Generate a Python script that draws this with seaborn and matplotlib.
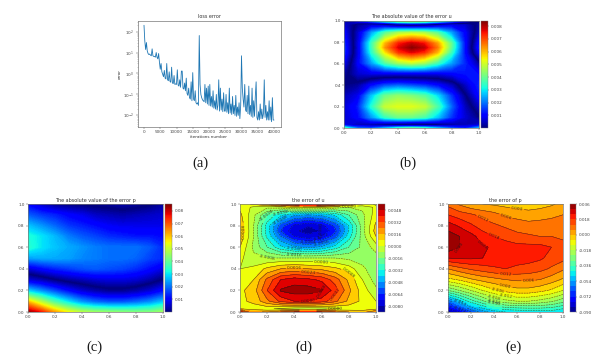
import numpy as np
import pandas as pd
import matplotlib
matplotlib.use('Agg')
import matplotlib.pyplot as plt
from matplotlib.cm import ScalarMappable
from matplotlib.colors import ListedColormap, Normalize
import seaborn as sns

# loss curve, one value every 250 iterations
loss_values = [
    200, 35, 14, 30, 12, 9, 8, 8.5, 7.5, 7, 15, 7, 6.5, 6.5, 6, 10, 6, 5, 9, 3.5,
    1.6, 3, 1.2, 0.9, 0.7, 1.4, 0.6, 0.55, 3, 0.5, 0.45, 1.2, 0.42, 0.38, 2, 0.35, 0.33, 0.8, 0.3, 0.32,
    0.3, 1.5, 0.28, 0.25, 0.5, 0.22, 1.3, 1.3, 0.2, 0.18, 0.35, 0.15, 0.6, 0.11, 0.09, 0.2, 0.07, 0.06, 0.4, 0.05,
    1.1, 0.06, 0.05, 0.15, 0.04, 0.035, 0.04, 0.03, 65, 0.3, 0.1, 0.07, 0.055, 0.05, 0.045, 0.3, 0.04, 0.2, 0.035, 0.25,
    0.03, 0.3, 0.028, 0.08, 0.025, 0.15, 0.022, 0.05, 0.02, 0.1, 0.018, 0.03, 0.5, 0.016, 0.2, 0.018, 0.06, 0.015, 0.12, 0.016,
    0.016, 0.1, 0.014, 0.04, 0.012, 0.2, 0.013, 0.035, 0.011, 0.08, 0.012, 0.03, 0.01, 0.09, 0.009, 0.025, 0.01, 0.04, 0.007, 0.03,
    7, 0.2, 0.06, 0.025, 0.3, 0.018, 0.015, 0.09, 0.012, 0.25, 0.011, 0.03, 0.009, 0.2, 0.008, 0.05, 0.009, 0.08, 0.4, 0.008,
    0.006, 0.015, 0.006, 0.035, 0.007, 0.02, 0.007, 0.012, 0.5, 0.008, 0.03, 0.006, 0.015, 0.006, 0.05, 0.006, 0.025, 0.005, 0.07, 0.006,
    0.006,
]
iterations = [i * 250 for i in range(len(loss_values))]

grid_x = [0.0, 0.1, 0.2, 0.3, 0.4, 0.5, 0.6, 0.7, 0.8, 0.9, 1.0]

# error of u, rows from the top of the plot to the bottom
u_y = [1.0, 0.97, 0.9, 0.8, 0.75, 0.7, 0.6, 0.5, 0.4, 0.3, 0.2, 0.1, 0.03, 0.0]
u_err = [
    [0.0002, 0.0010, 0.0022, 0.0036, 0.0045, 0.0049, 0.0045, 0.0036, 0.0022, 0.0008, -0.0002],
    [0.0006, -0.0002, -0.0006, -0.0004, 0.0002, 0.0004, 0.0002, -0.0004, -0.0008, -0.0006, 0.0002],
    [0.0010, -0.0006, -0.0024, -0.0038, -0.0046, -0.0048, -0.0046, -0.0038, -0.0024, -0.0010, 0.0004],
    [0.0014, -0.0008, -0.0036, -0.0060, -0.0074, -0.0079, -0.0075, -0.0062, -0.0040, -0.0012, 0.0010],
    [0.0015, -0.0008, -0.0036, -0.0064, -0.0078, -0.0084, -0.0080, -0.0066, -0.0040, -0.0012, 0.0012],
    [0.0014, -0.0008, -0.0034, -0.0056, -0.0072, -0.0077, -0.0073, -0.0060, -0.0036, -0.0012, 0.0008],
    [0.0008, -0.0010, -0.0024, -0.0038, -0.0046, -0.0050, -0.0046, -0.0036, -0.0024, -0.0014, -0.0004],
    [0.0002, -0.0006, -0.0008, -0.0008, -0.0008, -0.0008, -0.0008, -0.0008, -0.0010, -0.0012, -0.0012],
    [0.0000, 0.0002, 0.0010, 0.0016, 0.0018, 0.0016, 0.0014, 0.0010, 0.0004, -0.0006, -0.0014],
    [0.0004, 0.0008, 0.0026, 0.0040, 0.0044, 0.0042, 0.0038, 0.0028, 0.0014, 0.0000, -0.0012],
    [0.0006, 0.0012, 0.0032, 0.0049, 0.0052, 0.0052, 0.0049, 0.0036, 0.0018, 0.0004, -0.0006],
    [0.0006, 0.0010, 0.0022, 0.0034, 0.0040, 0.0040, 0.0036, 0.0026, 0.0014, 0.0006, 0.0000],
    [0.0008, 0.0004, 0.0002, -0.0002, -0.0005, -0.0006, -0.0005, -0.0002, 0.0002, 0.0004, 0.0006],
    [0.0035, 0.0018, 0.0016, 0.0024, 0.0032, 0.0036, 0.0032, 0.0024, 0.0016, 0.0012, 0.0024],
]

# error of p, rows from the top of the plot to the bottom
p_y = [1.0, 0.9, 0.8, 0.7, 0.6, 0.5, 0.4, 0.3, 0.2, 0.1, 0.0]
p_err = [
    [0.010, 0.005, 0.001, 0.000, -0.001, -0.002, -0.003, -0.004, -0.003, -0.001, 0.002],
    [0.018, 0.015, 0.013, 0.010, 0.008, 0.005, 0.004, 0.003, 0.004, 0.005, 0.006],
    [0.027, 0.023, 0.019, 0.015, 0.013, 0.011, 0.009, 0.008, 0.008, 0.008, 0.008],
    [0.033, 0.030, 0.026, 0.021, 0.018, 0.016, 0.014, 0.013, 0.012, 0.012, 0.011],
    [0.034, 0.030, 0.027, 0.025, 0.023, 0.021, 0.020, 0.020, 0.020, 0.018, 0.014],
    [0.024, 0.025, 0.025, 0.024, 0.022, 0.021, 0.020, 0.020, 0.019, 0.016, 0.014],
    [0.006, 0.010, 0.013, 0.015, 0.017, 0.018, 0.017, 0.016, 0.014, 0.011, 0.007],
    [-0.008, -0.005, -0.001, 0.002, 0.004, 0.006, 0.007, 0.007, 0.006, 0.003, -0.001],
    [-0.030, -0.024, -0.018, -0.012, -0.007, -0.004, -0.002, -0.002, -0.004, -0.007, -0.012],
    [-0.062, -0.050, -0.039, -0.031, -0.024, -0.020, -0.018, -0.018, -0.020, -0.023, -0.028],
    [-0.0855, -0.078, -0.066, -0.057, -0.051, -0.048, -0.047, -0.046, -0.045, -0.045, -0.048],
]

unit_ticks = [0.0, 0.2, 0.4, 0.6, 0.8, 1.0]
loss_ticks = [0, 5000, 10000, 15000, 20000, 25000, 30000, 35000, 40000]
abs_u_ticks = [0.001, 0.002, 0.003, 0.004, 0.005, 0.006, 0.007, 0.008]
abs_p_ticks = [0.01, 0.02, 0.03, 0.04, 0.05, 0.06, 0.07, 0.08]
u_ticks = [-0.0080, -0.0064, -0.0048, -0.0032, -0.0016, 0.0, 0.0016, 0.0032, 0.0048]
p_ticks = [-0.090, -0.072, -0.054, -0.036, -0.018, 0.0, 0.018, 0.036]
u_levels = np.arange(-0.0088, 0.00561, 0.0008)
p_levels = np.arange(-0.090, 0.0361, 0.006)

sns.set_theme(style='ticks', rc={'font.size': 3.2, 'axes.linewidth': 0.5, 'axes.edgecolor': '#777777',
                                 'xtick.major.size': 1.2, 'ytick.major.size': 1.2,
                                 'xtick.major.width': 0.3, 'ytick.major.width': 0.3,
                                 'xtick.minor.width': 0.2, 'ytick.minor.width': 0.2,
                                 'xtick.major.pad': 1.2, 'ytick.major.pad': 1.2,
                                 'xtick.labelsize': 3.0, 'ytick.labelsize': 3.0,
                                 'axes.titlesize': 3.5, 'axes.labelsize': 3.0,
                                 'axes.titlepad': 1.8, 'axes.labelpad': 1.0,
                                 'text.color': '#333333', 'axes.labelcolor': '#333333',
                                 'xtick.color': '#444444', 'ytick.color': '#444444'})

W, H = 605, 360
fig = plt.figure(figsize=(W / 100, H / 100), dpi=100)
jet = plt.get_cmap('jet')

def box(x0, y0, x1, y1):
    return fig.add_axes([x0 / W, 1 - y1 / H, (x1 - x0) / W, (y1 - y0) / H])

def add_cbar(mappable, cax, ticks, fmt):
    cb = fig.colorbar(mappable, cax=cax, ticks=ticks, format=fmt)
    cb.ax.tick_params(length=1.0, width=0.3, labelsize=3.0, pad=1.2)
    cb.ax.minorticks_off()
    cb.outline.set_linewidth(0.3)
    return cb

def abs_panel(pos, cpos, y, z, title, ticks, fmt):
    ax = box(*pos)
    # colour by |z| on the signed field so the zero lines stay sharp
    vmax = np.abs(z).max()
    two_sided = ListedColormap(jet(np.abs(np.linspace(-1, 1, 512))))
    ax.contourf(grid_x, y, z, levels=np.linspace(-vmax, vmax, 401), cmap=two_sided, antialiased=False)
    ax.set_xticks(unit_ticks)
    ax.set_yticks(unit_ticks)
    ax.set_title(title)
    add_cbar(ScalarMappable(Normalize(0, vmax), jet), box(*cpos), ticks, fmt)

def err_panel(pos, cpos, y, z, levels, title, ticks, fmt):
    ax = box(*pos)
    cf = ax.contourf(grid_x, y, z, levels=levels, cmap=jet)
    cs = ax.contour(grid_x, y, z, levels=levels, colors='k', linewidths=0.35, alpha=0.8)
    labels = ax.clabel(cs, levels[1:], fontsize=3.2, fmt=fmt, inline=True, inline_spacing=1)
    # the thin strips at the top and bottom edge only have room for one label
    seen = set()
    for t in list(labels):
        ty = t.get_position()[1]
        if ty > 0.93 or ty < 0.07:
            if (ty > 0.5) in seen:
                t.remove()
            seen.add(ty > 0.5)
    ax.set_xticks(unit_ticks)
    ax.set_yticks(unit_ticks)
    ax.set_title(title)
    add_cbar(cf, box(*cpos), ticks, fmt)

# (a) loss
ax = box(137.5, 20.7, 280.5, 126.7)
loss_df = pd.DataFrame({'iter': iterations, 'loss': loss_values})
sns.lineplot(data=loss_df, x='iter', y='loss', ax=ax, color='#1f77b4', linewidth=0.6, errorbar=None)
ax.set_yscale('log')
ax.set_xlim(-2000, 42000)
ax.set_ylim(10 ** -2.54, 10 ** 2.52)
ax.set_xticks(loss_ticks)
ax.set_yticks([0.01, 0.1, 1, 10, 100])
ax.tick_params(which='minor', length=0.7)
ax.set_title('loss error')
ax.set_xlabel('iterations number')
ax.set_ylabel('error')

u_arr = np.array(u_err)
p_arr = np.array(p_err)

abs_panel((344, 21, 479, 128), (481, 21, 488, 128), u_y, u_arr,
          'The absolute value of the error u', abs_u_ticks, '%.3f')
abs_panel((28, 204, 163, 312), (164.5, 204, 172, 312), p_y, p_arr,
          'The absolute value of the error p', abs_p_ticks, '%.2f')
err_panel((240, 204, 376, 312), (378, 204, 384.5, 312), u_y, u_arr, u_levels,
          'the error of u', u_ticks, '%.4f')
err_panel((448, 204, 563, 312), (570, 204, 576, 312), p_y, p_arr, p_levels,
          'the error of p', p_ticks, '%.3f')

for label, cx, cy in [('(a)', 200, 163), ('(b)', 408, 163), ('(c)', 94, 347), ('(d)', 304, 347), ('(e)', 514, 347)]:
    fig.text(cx / W, 1 - cy / H, label, ha='center', va='center', family='Liberation Serif', fontsize=10.5, color='#1a1a1a')

fig.savefig('out.png', dpi=100)
